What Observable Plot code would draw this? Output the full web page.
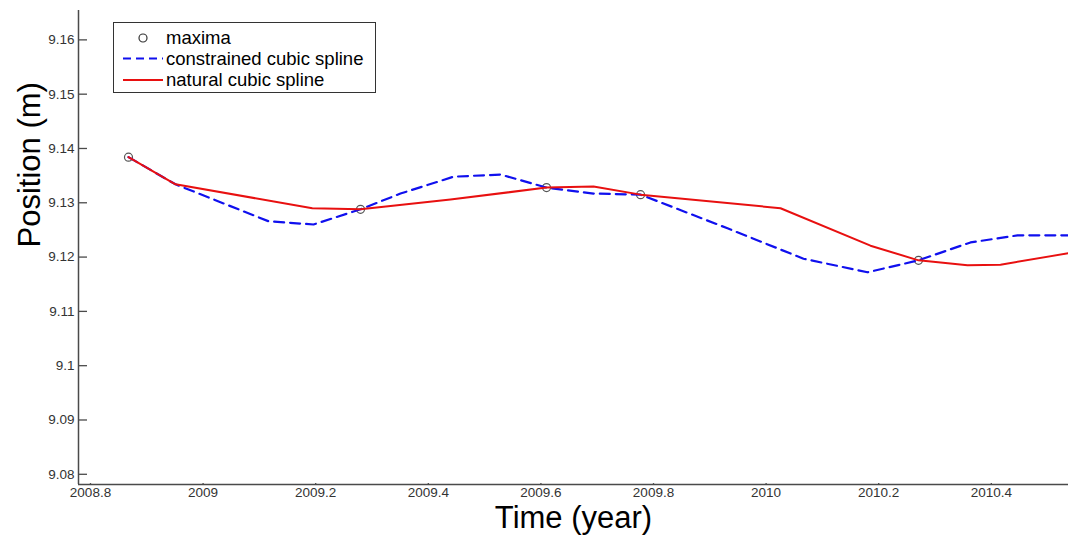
<!DOCTYPE html>
<html>
<head>
<meta charset="utf-8">
<script src="https://cdn.jsdelivr.net/npm/d3@7"></script>
<script src="https://cdn.jsdelivr.net/npm/@observablehq/plot@0.6"></script>
<style>
  html, body { margin: 0; padding: 0; background: #fff; }
  #chart svg { display: block; }
</style>
</head>
<body>
<div id="chart"></div>
<script>
// Detected maxima of the position record
const maximaYear = [2008.8675, 2009.2796, 2009.6100, 2009.7770, 2010.2707];
const maximaPos  = [9.1384, 9.1288, 9.1328, 9.1315, 9.1194];

// Constrained cubic spline through the maxima
const constrainedYear = [2008.8675, 2008.9510, 2009.1162, 2009.1961, 2009.2796, 2009.3506,
  2009.4448, 2009.5282, 2009.6100, 2009.6934, 2009.7770, 2009.9314, 2010.0664, 2010.1801,
  2010.2707, 2010.3630, 2010.4466, 2010.5370];
const constrainedPos = [9.1384, 9.1334, 9.1266, 9.1260, 9.1288, 9.1317,
  9.1348, 9.1352, 9.1328, 9.1317, 9.1315, 9.1253, 9.1197, 9.1172,
  9.1194, 9.1227, 9.1240, 9.1240];

// Natural cubic spline through the maxima
const naturalYear = [2008.8675, 2008.9510, 2009.1940, 2009.2796, 2009.4394, 2009.6100,
  2009.6934, 2009.7770, 2010.0256, 2010.1854, 2010.2707, 2010.3577, 2010.4163, 2010.5370];
const naturalPos = [9.1384, 9.1334, 9.1290, 9.1288, 9.1306, 9.1328,
  9.1330, 9.1315, 9.1290, 9.1221, 9.1194, 9.1185, 9.1186, 9.1207];

const seriesNames = ["maxima", "constrained cubic spline", "natural cubic spline"];
const xTicks = [2008.8, 2009, 2009.2, 2009.4, 2009.6, 2009.8, 2010, 2010.2, 2010.4];
const yTicks = [9.08, 9.09, 9.1, 9.11, 9.12, 9.13, 9.14, 9.15, 9.16];
const xLabel = "Time (year)";
const yLabel = "Position (m)";

const xDomain = [2008.7787, 2010.5371];
const yDomain = [9.07812, 9.16541];

const toRows = (xs, ys) => xs.map((t, i) => ({t, p: ys[i]}));
const maxima = toRows(maximaYear, maximaPos);
const constrained = toRows(constrainedYear, constrainedPos);
const natural = toRows(naturalYear, naturalPos);

const fmt = d => String(+d.toFixed(2));
const axisColor = "#4a4a4a";
const tickTextColor = "#333";
const FONT = "Liberation Sans, Arial, sans-serif";

// inward tick lengths, in data units (about 9px)
const xTickLen = 0.016;
const yTickLen = 0.00017;

const chart = Plot.plot({
  width: 1068,
  height: 536,
  marginLeft: 78,
  marginRight: 0,
  marginTop: 10,
  marginBottom: 52,
  style: {fontFamily: FONT, background: "#fff"},
  x: {domain: xDomain, axis: null},
  y: {domain: yDomain, axis: null},
  marks: [
    // axis lines
    Plot.ruleX([xDomain[0]], {stroke: axisColor, strokeWidth: 1.5}),
    Plot.ruleY([yDomain[0]], {stroke: axisColor, strokeWidth: 1.5}),
    // inward ticks
    Plot.ruleY(yTicks, {y: d => d, x1: xDomain[0], x2: xDomain[0] + xTickLen, stroke: axisColor, strokeWidth: 1.3}),
    Plot.ruleX(xTicks, {x: d => d, y1: yDomain[0], y2: yDomain[0] + yTickLen, stroke: axisColor, strokeWidth: 1.3}),
    // tick labels
    Plot.text(yTicks, {x: xDomain[0], y: d => d, text: fmt, textAnchor: "end", dx: -4, fontSize: 13.5, fill: tickTextColor}),
    Plot.text(xTicks, {x: d => d, y: yDomain[0], text: fmt, lineAnchor: "top", dy: 3, fontSize: 13.5, fill: tickTextColor}),
    // data
    Plot.dot(maxima, {x: "t", y: "p", r: 4, stroke: "#555", strokeWidth: 1.2, fill: "none"}),
    Plot.line(constrained, {x: "t", y: "p", stroke: "#1010ee", strokeWidth: 2.2, strokeDasharray: "10,6", clip: true}),
    Plot.line(natural, {x: "t", y: "p", stroke: "#e81010", strokeWidth: 2, clip: true}),
    // axis titles
    Plot.text([xLabel], {frameAnchor: "bottom", text: d => d, dy: 34, fontSize: 31, fill: "#000", lineAnchor: "middle"}),
    Plot.text([yLabel], {frameAnchor: "left", text: d => d, dx: -48, rotate: -90, fontSize: 31, fill: "#000", lineAnchor: "middle"})
  ]
});

document.getElementById("chart").append(chart);

// legend box in the upper-left corner of the axes
const svg = d3.select(chart);
const lg = svg.append("g").attr("font-family", FONT).attr("font-size", 18.5).attr("text-anchor", "start");
lg.append("rect").attr("x", 113.5).attr("y", 22.5).attr("width", 262).attr("height", 70)
  .attr("fill", "#fff").attr("stroke", "#333").attr("stroke-width", 1);
const rowY = [38, 58.5, 80];
lg.append("circle").attr("cx", 143).attr("cy", rowY[0]).attr("r", 4)
  .attr("fill", "none").attr("stroke", "#333").attr("stroke-width", 1.2);
lg.append("line").attr("x1", 123).attr("x2", 163).attr("y1", rowY[1]).attr("y2", rowY[1])
  .attr("stroke", "#1010ee").attr("stroke-width", 2).attr("stroke-dasharray", "8,5");
lg.append("line").attr("x1", 123).attr("x2", 163).attr("y1", rowY[2]).attr("y2", rowY[2])
  .attr("stroke", "#e81010").attr("stroke-width", 2);
seriesNames.forEach((name, i) => {
  lg.append("text").attr("x", 166).attr("y", rowY[i]).attr("dy", "0.35em")
    .attr("text-anchor", "start").attr("fill", "#000").text(name);
});
</script>
</body>
</html>
